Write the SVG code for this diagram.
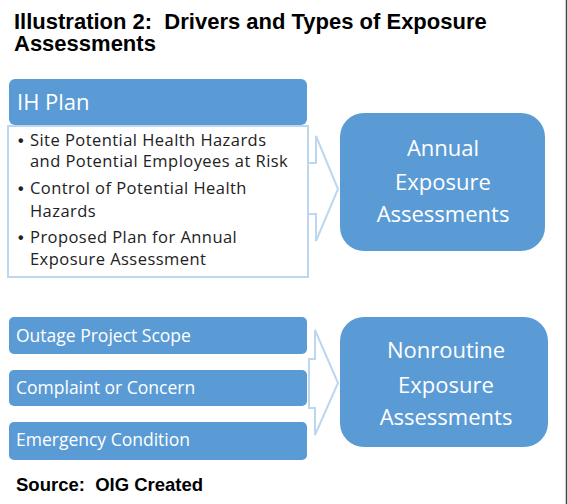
<svg xmlns="http://www.w3.org/2000/svg" width="568" height="504" viewBox="0 0 568 504">
<style>
.title{font-family:"Liberation Sans",Arial,sans-serif;font-weight:bold;fill:#000;white-space:pre}
.box{fill:#5b9bd5}
.wt{font-family:"Open Sans",Lato,sans-serif;fill:#fff}
.bt{font-family:"Open Sans",Lato,sans-serif;fill:#222;font-size:16.5px;letter-spacing:0.45px}
.bu{font-family:"Liberation Sans",Arial,sans-serif;fill:#222;font-size:16px;font-weight:bold}
.arr{fill:#fff;stroke:#bdd7ee;stroke-width:2}
</style>
<rect x="0" y="0" width="568" height="504" fill="#fff"/>
<line x1="566.5" y1="0" x2="566.5" y2="504" stroke="#444" stroke-width="1.5"/>
<text class="title" x="14" y="29" font-size="22" xml:space="preserve">Illustration 2:  Drivers and Types of Exposure</text>
<text class="title" x="14" y="51" font-size="22">Assessments</text>
<g id="connectors">
<path class="arr" d="M300,163 L316,163 L316,136 L338,189 L316,241 L316,214 L300,214 Z"/>
<path class="arr" d="M309,359 L315,359 L315,330 L338,383 L315,435 L315,408 L309,408 Z"/>
</g>
<g id="ih-plan">
<rect x="8" y="126" width="300" height="151" fill="#fff" stroke="#bdd7ee" stroke-width="2"/>
<rect class="box" x="9" y="79" width="298" height="46" rx="6"/>
<text class="wt" x="17" y="110" font-size="22">IH Plan</text>
<text class="bu" x="18" y="146">•</text>
<text class="bu" x="18" y="194">•</text>
<text class="bu" x="18" y="243">•</text>
<g class="bt">
<text x="30" y="146">Site Potential Health Hazards</text>
<text x="30" y="167">and Potential Employees at Risk</text>
<text x="30" y="194">Control of Potential Health</text>
<text x="30" y="217">Hazards</text>
<text x="30" y="243">Proposed Plan for Annual</text>
<text x="30" y="265">Exposure Assessment</text>
</g>
</g>
<g id="annual">
<rect class="box" x="340" y="113" width="205" height="138" rx="24"/>
<text class="wt" font-size="22" text-anchor="middle" x="443" y="156">Annual</text>
<text class="wt" font-size="22" text-anchor="middle" x="443" y="190">Exposure</text>
<text class="wt" font-size="22" text-anchor="middle" x="443" y="222">Assessments</text>
</g>
<g id="outage">
<rect class="box" x="9" y="317" width="298" height="37" rx="5"/>
<text class="wt" font-size="17.5" x="16" y="342">Outage Project Scope</text>
</g>
<g id="complaint">
<rect class="box" x="9" y="370" width="298" height="36" rx="5"/>
<text class="wt" font-size="17.5" x="16" y="394">Complaint or Concern</text>
</g>
<g id="emergency">
<rect class="box" x="9" y="422" width="298" height="38" rx="5"/>
<text class="wt" font-size="17.5" x="16" y="446">Emergency Condition</text>
</g>
<g id="nonroutine">
<rect class="box" x="340" y="317" width="208" height="130" rx="24"/>
<text class="wt" font-size="22" text-anchor="middle" x="446" y="358">Nonroutine</text>
<text class="wt" font-size="22" text-anchor="middle" x="446" y="393">Exposure</text>
<text class="wt" font-size="22" text-anchor="middle" x="446" y="425">Assessments</text>
</g>
<text class="title" x="16" y="491" font-size="18.5" xml:space="preserve">Source:  OIG Created</text>
</svg>
